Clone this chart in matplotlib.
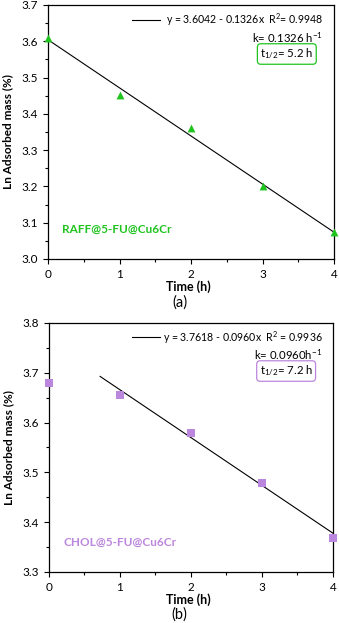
import numpy as np
import matplotlib
matplotlib.use('Agg')
import matplotlib.pyplot as plt
from matplotlib.ticker import MultipleLocator

plt.rcParams['font.family'] = ['Lato', 'DejaVu Sans']
plt.rcParams['mathtext.fontset'] = 'custom'
plt.rcParams['mathtext.rm'] = 'Lato'
plt.rcParams['mathtext.it'] = 'Lato:italic'
plt.rcParams['mathtext.bf'] = 'Lato:bold'

time_h = [0, 1, 2, 3, 4]

raff_ln = [3.61, 3.452, 3.36, 3.20, 3.073]
raff_fit = (3.6042, -0.1326)
raff_fit_range = (0.0, 4.0)

chol_ln = [3.68, 3.655, 3.58, 3.478, 3.368]
chol_fit = (3.7618, -0.0960)
chol_fit_range = (0.72, 4.0)

green = '#1fc41f'
purple = '#bb86dd'

fig = plt.figure(figsize=(3.39, 6.23), dpi=100)
ax1 = fig.add_axes([0.1416, 0.5843, 0.8437, 0.4077])
ax2 = fig.add_axes([0.1445, 0.0819, 0.8378, 0.3997])


def panel(ax, y, fit, rng, color, marker, ylim, ystep, eq, k_text, t_text, name, letter, name_y):
    xs = np.array(rng)
    ax.plot(xs, fit[0] + fit[1] * xs, color='black', lw=0.8, zorder=2)
    ax.scatter(time_h, y, marker=marker, s=32, color=color, zorder=3,
               clip_on=False, linewidths=0)
    ax.set_xlim(0, 4)
    ax.set_ylim(*ylim)
    ax.xaxis.set_major_locator(MultipleLocator(1))
    ax.xaxis.set_minor_locator(MultipleLocator(0.5))
    ax.yaxis.set_major_locator(MultipleLocator(ystep))
    ax.yaxis.set_minor_locator(MultipleLocator(ystep / 2))
    ax.yaxis.set_major_formatter(plt.FormatStrFormatter('%.1f'))
    ax.tick_params(which='both', direction='out', labelsize=8.5, width=0.8)
    ax.tick_params(which='major', length=3.5)
    ax.tick_params(which='minor', length=2)
    for s in ax.spines.values():
        s.set_linewidth(0.9)
    ax.set_ylabel('Ln Adsorbed mass (%)', fontsize=8.5, fontweight='bold')
    ax.yaxis.set_label_coords(-0.122, 0.5)
    ax.text(0.49, -0.11, 'Time (h)', transform=ax.transAxes, ha='center',
            va='center', fontsize=9, fontweight='bold')
    ax.text(0.46, -0.17, letter, transform=ax.transAxes, ha='center',
            va='center', fontsize=10.5)
    ax.plot([0.292, 0.39], [0.942, 0.942], transform=ax.transAxes,
            color='black', lw=0.8)
    ax.text(0.963, 0.942, eq, transform=ax.transAxes, ha='right', va='center',
            fontsize=7.6)
    ax.text(0.962, 0.872, k_text, transform=ax.transAxes, ha='right',
            va='center', fontsize=8.2)
    ax.text(0.835, 0.807, t_text, transform=ax.transAxes, ha='center',
            va='center', fontsize=8.2,
            bbox=dict(boxstyle='round,pad=0.25,rounding_size=0.3',
                      fc='white', ec=color, lw=0.9))
    ax.text(0.05, name_y, name, transform=ax.transAxes, ha='left',
            va='center', fontsize=8.5, fontweight='bold', color=color)


panel(ax1, raff_ln, raff_fit, raff_fit_range, green, '^', (3.0, 3.7), 0.1,
      r'y = 3.6042 - 0.1326x  R$^2$= 0.9948', r'k= 0.1326 h$^{-1}$',
      r't$_{1/2}$= 5.2 h', 'RAFF@5-FU@Cu6Cr', '(a)', 0.115)
panel(ax2, chol_ln, chol_fit, chol_fit_range, purple, 's', (3.3, 3.8), 0.1,
      r'y = 3.7618 - 0.0960x  R$^2$ = 0.9936', r'k= 0.0960h$^{-1}$',
      r't$_{1/2}$= 7.2 h', 'CHOL@5-FU@Cu6Cr', '(b)', 0.117)

plt.savefig('out.png', dpi=100)
